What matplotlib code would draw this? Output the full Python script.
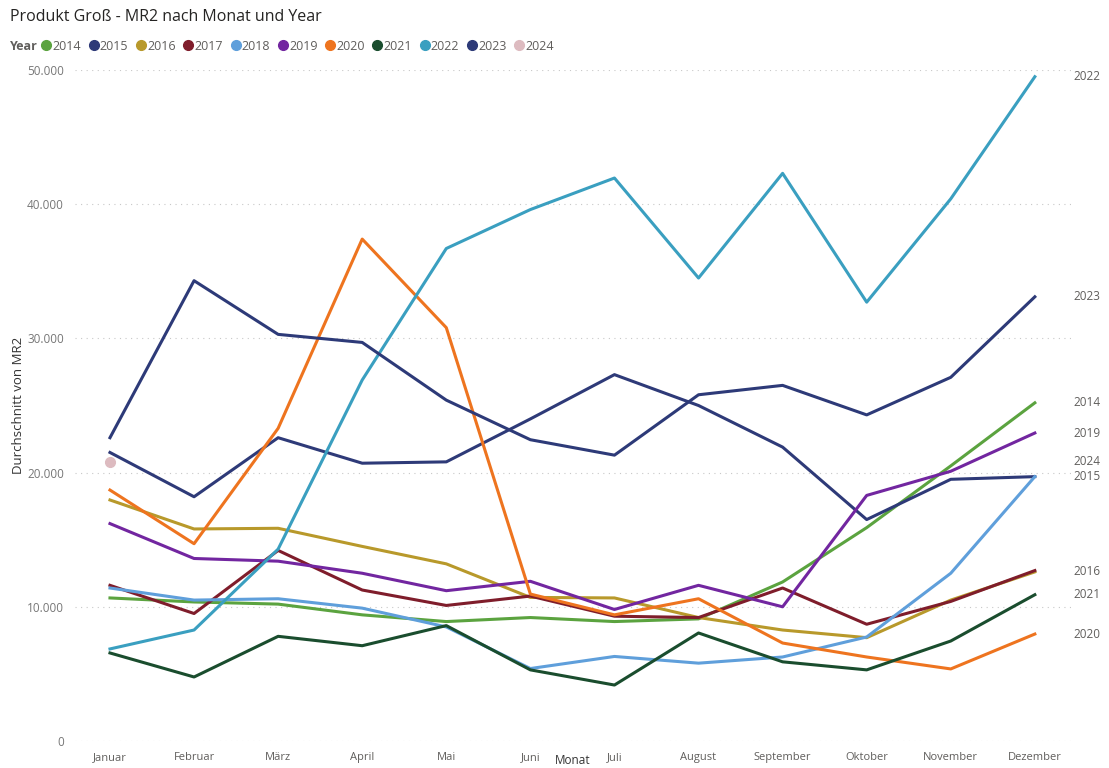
import matplotlib.pyplot as plt
import numpy as np

plt.rcParams['font.family'] = ['Open Sans', 'DejaVu Sans']

monate = ['Januar', 'Februar', 'März', 'April', 'Mai', 'Juni', 'Juli',
          'August', 'September', 'Oktober', 'November', 'Dezember']
jahre = ['2014', '2015', '2016', '2017', '2018', '2019', '2020', '2021', '2022', '2023', '2024']
farben = ['#5BA33F', '#2E3A78', '#B8992B', '#7F1D2B', '#5F9FDB', '#7226A0',
          '#EE741F', '#1A4D2E', '#3A9FC0', '#2D3A78', '#DDBBC0']

mr2 = {
    '2014': [10660, 10360, 10200, 9400, 8900, 9200, 8900, 9100, 11850, 15900, 20500, 25200],
    '2015': [21500, 18200, 22600, 20700, 20800, 24000, 27300, 25000, 21900, 16500, 19500, 19700],
    '2016': [17960, 15800, 15850, 14500, 13200, 10700, 10660, 9200, 8270, 7700, 10500, 12600],
    '2017': [11600, 9500, 14200, 11250, 10100, 10800, 9300, 9200, 11400, 8700, 10400, 12700],
    '2018': [11400, 10500, 10600, 9900, 8500, 5400, 6300, 5800, 6260, 7750, 12500, 19700],
    '2019': [16200, 13600, 13400, 12500, 11200, 11900, 9800, 11600, 10000, 18300, 20100, 22950],
    '2020': [18700, 14700, 23300, 37400, 30800, 10950, 9400, 10600, 7300, 6260, 5370, 7970],
    '2021': [6560, 4770, 7800, 7100, 8600, 5300, 4170, 8050, 5900, 5300, 7450, 10900],
    '2022': [6860, 8270, 14300, 26900, 36700, 39600, 41950, 34500, 42300, 32700, 40400, 49500],
    '2023': [22600, 34300, 30300, 29700, 25400, 22450, 21300, 25800, 26500, 24300, 27100, 33100],
    '2024': [20800] + [np.nan] * 11,
}
# Jahre ohne Beschriftung rechts (verdeckt)
ohne_label = ['2017', '2018']

fig = plt.figure(figsize=(11.09, 7.68), dpi=100)
ax = fig.add_axes([75 / 1109, 27 / 768, 996 / 1109, 671 / 768])

x = np.arange(len(monate))
for jahr, farbe in zip(jahre, farben):
    werte = np.array(mr2[jahr], dtype=float)
    if np.count_nonzero(~np.isnan(werte)) == 1:
        ax.plot(x, werte, 'o', color=farbe, markersize=7, zorder=3)
    else:
        ax.plot(x, werte, '-', color=farbe, linewidth=2.2, zorder=2)
    if jahr not in ohne_label:
        letzter = werte[~np.isnan(werte)][-1]
        ax.annotate(jahr, xy=(1, letzter), xycoords=('axes fraction', 'data'),
                    xytext=(2, 0), textcoords='offset points', va='center',
                    ha='left', fontsize=8.5, color='#605E5C', annotation_clip=False)

ax.set_xlim(-0.416, 11.43)
ax.set_ylim(0, 50000)
ax.set_xticks(x)
ax.set_xticklabels(monate, fontsize=8, color='#605E5C')
ax.set_yticks(np.arange(0, 50001, 10000))
ax.set_yticklabels(['0', '10.000', '20.000', '30.000', '40.000', '50.000'],
                   fontsize=8.5, color='#777777')
ax.tick_params(length=0, pad=8)
ax.grid(axis='y', linestyle=(0, (1, 4)), color='#C8C8C8', linewidth=0.8)
for s in ax.spines.values():
    s.set_visible(False)

ax.set_ylabel('Durchschnitt von MR2', fontsize=9.5, color='#333333')
ax.yaxis.set_label_coords(-0.05, 0.5)
fig.text(573 / 1109, 1 / 768, 'Monat', fontsize=8.5, color='#333333',
         va='bottom', ha='center')

fig.text(10 / 1109, 1 - 17 / 768, 'Produkt Groß - MR2 nach Monat und Year',
         fontsize=11.5, color='#252423', va='center', ha='left')
fig.text(10 / 1109, 1 - 46 / 768, 'Year', fontsize=9, fontweight='bold',
         color='#605E5C', va='center', ha='left')

handles = [plt.Line2D([], [], marker='o', linestyle='', color=f, markersize=7) for f in farben]
fig.legend(handles, jahre, loc='center left', bbox_to_anchor=(40 / 1109, 1 - 46 / 768),
           ncol=len(jahre), frameon=False, fontsize=9, handletextpad=0.0,
           columnspacing=0.5, handlelength=1.0, borderaxespad=0, borderpad=0,
           labelcolor='#605E5C')

fig.savefig('out.png', dpi=100)
